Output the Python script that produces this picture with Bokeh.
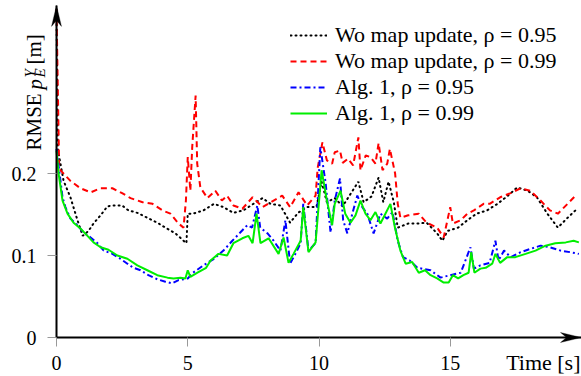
import numpy as np
from bokeh.plotting import figure
from bokeh.models import Label, Legend, LegendItem, FixedTicker, PolyAnnotation
from bokeh.embed import file_html
from bokeh.resources import INLINE

# ---------------- data ----------------
t_wo95 = [0, 0.05, 0.27, 0.53, 0.8, 1.0, 1.22, 1.41, 1.68, 1.94, 2.17, 2.5, 2.74, 3.08, 3.46, 3.84,
          4.15, 4.53, 4.84, 4.95, 5.0, 5.2, 5.6, 6.0, 6.36, 6.74, 7.12, 7.5, 7.85, 8.15, 8.53, 8.9,
          9.2, 9.55, 9.9, 10.1, 10.3, 10.6, 10.9, 11.2, 11.5, 11.7, 12.0, 12.27, 12.45, 12.65, 12.85,
          13.0, 13.4, 13.75, 14.1, 14.5, 14.7, 14.9, 15.3, 15.65, 16.0, 16.4, 16.8, 17.2, 17.55,
          17.95, 18.3, 18.7, 19.1, 19.47, 19.77]
y_wo95 = [0.40, 0.23, 0.191, 0.171, 0.143, 0.124, 0.130, 0.139, 0.149, 0.160, 0.161, 0.161, 0.155,
          0.152, 0.146, 0.140, 0.134, 0.127, 0.118, 0.115, 0.151, 0.151, 0.155, 0.163, 0.159, 0.152,
          0.155, 0.163, 0.170, 0.163, 0.161, 0.140, 0.152, 0.159, 0.159, 0.190, 0.165, 0.170, 0.160,
          0.175, 0.190, 0.165, 0.172, 0.195, 0.165, 0.190, 0.165, 0.134, 0.139, 0.139, 0.140, 0.127,
          0.118, 0.130, 0.134, 0.143, 0.151, 0.155, 0.163, 0.173, 0.183, 0.179, 0.171, 0.151, 0.134,
          0.146, 0.155]

t_wo99 = [0, 0.1, 0.15, 0.53, 0.91, 1.3, 1.68, 2.13, 2.5, 2.82, 3.28, 3.66, 4.04, 4.34, 4.65, 4.84,
          4.93, 5.0, 5.1, 5.17, 5.3, 5.36, 5.48, 5.75, 6.05, 6.3, 6.5, 6.74, 7.08, 7.47, 7.85, 8.27,
          8.6, 8.9, 9.22, 9.55, 9.87, 9.95, 10.13, 10.3, 10.5, 10.6, 10.8, 10.9, 11.1, 11.3, 11.5,
          11.58, 11.78, 11.96, 12.15, 12.27, 12.42, 12.6, 12.7, 12.9, 13.0, 13.1, 13.4, 13.8, 14.1,
          14.5, 14.75, 15.0, 15.1, 15.4, 15.65, 15.9, 16.27, 16.5, 16.9, 17.3, 17.68, 18.05, 18.44,
          18.8, 19.1, 19.47, 19.77]
y_wo99 = [0.40, 0.21, 0.204, 0.191, 0.182, 0.177, 0.182, 0.182, 0.176, 0.170, 0.165, 0.163, 0.155,
          0.151, 0.139, 0.134, 0.167, 0.220, 0.179, 0.232, 0.295, 0.212, 0.183, 0.170, 0.179, 0.167,
          0.173, 0.161, 0.157, 0.171, 0.159, 0.167, 0.173, 0.159, 0.177, 0.161, 0.173, 0.207, 0.238,
          0.216, 0.212, 0.226, 0.228, 0.213, 0.218, 0.210, 0.244, 0.204, 0.222, 0.220, 0.212, 0.237,
          0.204, 0.212, 0.230, 0.200, 0.163, 0.146, 0.149, 0.151, 0.140, 0.134, 0.122, 0.159, 0.139,
          0.143, 0.151, 0.155, 0.163, 0.163, 0.171, 0.176, 0.182, 0.179, 0.167, 0.155, 0.151, 0.163,
          0.173]

t_alg95 = [0, 0.23, 0.34, 0.53, 0.8, 1.03, 1.3, 1.56, 1.8, 2.13, 2.44, 2.7, 2.93, 3.2, 3.5, 3.84,
           4.15, 4.4, 4.65, 5.0, 5.2, 5.6, 6.0, 6.36, 6.7, 7.0, 7.27, 7.45, 7.65, 7.76, 8.04, 8.27,
           8.53, 8.72, 8.9, 9.1, 9.3, 9.4, 9.6, 9.87, 10.05, 10.25, 10.44, 10.6, 10.8, 10.92, 11.08,
           11.27, 11.46, 11.65, 11.84, 12.08, 12.34, 12.6, 12.8, 13.0, 13.2, 13.45, 13.75, 14.25,
           14.63, 15.0, 15.4, 15.77, 15.9, 16.15, 16.5, 16.72, 16.84, 17.05, 17.3, 17.68, 18.05,
           18.44, 18.8, 19.2, 19.58, 19.9]
y_alg95 = [0.23, 0.171, 0.159, 0.145, 0.137, 0.128, 0.122, 0.115, 0.106, 0.102, 0.096, 0.090, 0.085,
           0.082, 0.076, 0.071, 0.068, 0.066, 0.070, 0.072, 0.079, 0.088, 0.096, 0.106, 0.118, 0.128,
           0.137, 0.134, 0.161, 0.134, 0.127, 0.118, 0.106, 0.143, 0.090, 0.102, 0.115, 0.163, 0.106,
           0.115, 0.232, 0.189, 0.128, 0.167, 0.194, 0.143, 0.127, 0.151, 0.173, 0.159, 0.151, 0.127,
           0.151, 0.145, 0.153, 0.118, 0.098, 0.094, 0.085, 0.082, 0.073, 0.076, 0.079, 0.110, 0.084,
           0.088, 0.091, 0.118, 0.094, 0.106, 0.098, 0.104, 0.108, 0.112, 0.110, 0.106, 0.104, 0.102]

t_alg99 = [0, 0.08, 0.23, 0.42, 0.65, 0.91, 1.18, 1.41, 1.68, 1.98, 2.32, 2.7, 3.08, 3.46, 3.84,
           4.23, 4.46, 4.72, 4.91, 5.0, 5.1, 5.37, 5.7, 5.87, 6.17, 6.5, 6.74, 7.08, 7.31, 7.47, 7.62,
           7.77, 8.08, 8.46, 8.65, 8.84, 9.03, 9.3, 9.4, 9.6, 9.87, 10.1, 10.3, 10.5, 10.6, 10.82,
           11.0, 11.2, 11.39, 11.58, 11.77, 11.96, 12.15, 12.34, 12.53, 12.72, 12.9, 13.1, 13.3,
           13.55, 13.8, 14.04, 14.25, 14.5, 14.75, 14.94, 15.1, 15.3, 15.5, 15.7, 15.8, 15.92, 16.15,
           16.35, 16.6, 16.72, 16.9, 17.17, 17.48, 17.87, 18.25, 18.63, 19.0, 19.4, 19.7, 19.9]
y_alg99 = [0.228, 0.200, 0.167, 0.151, 0.140, 0.133, 0.124, 0.116, 0.110, 0.107, 0.100, 0.096, 0.088,
           0.082, 0.076, 0.073, 0.072, 0.073, 0.072, 0.082, 0.074, 0.079, 0.085, 0.094, 0.102, 0.100,
           0.115, 0.121, 0.124, 0.115, 0.151, 0.115, 0.121, 0.102, 0.122, 0.091, 0.102, 0.118, 0.159,
           0.104, 0.116, 0.204, 0.167, 0.137, 0.163, 0.179, 0.151, 0.140, 0.149, 0.167, 0.151, 0.143,
           0.153, 0.139, 0.151, 0.163, 0.133, 0.106, 0.090, 0.092, 0.079, 0.082, 0.076, 0.072, 0.067,
           0.067, 0.076, 0.072, 0.076, 0.079, 0.104, 0.079, 0.084, 0.085, 0.090, 0.102, 0.091, 0.098,
           0.098, 0.102, 0.106, 0.112, 0.115, 0.116, 0.118, 0.116]

legend_labels = ["Wo map update, ρ = 0.95", "Wo map update, ρ = 0.99",
                 "Alg. 1, ρ = 0.95", "Alg. 1, ρ = 0.99"]
x_ticks = [0, 5, 10, 15]
y_ticks = [0, 0.1, 0.2]
y_tick_labels = ["0", "0.1", "0.2"]

AX_X_END, AX_Y_END = 20.0, 0.405   # axis extents (arrow tips)

# ---------------- figure ----------------
W, H = 581, 376
X0_PX, Y0_PX = 56, 337          # pixel position of the data origin
SX, SY = 26.25, 820.0           # pixels per data unit
FONT = "Liberation Serif"

x_rng = (-X0_PX / SX, (W - X0_PX) / SX)
y_rng = ((Y0_PX - H) / SY, Y0_PX / SY)

p = figure(width=W, height=H, x_range=x_rng, y_range=y_rng,
           output_backend="svg", toolbar_location=None,
           min_border_left=0, min_border_right=0, min_border_top=0, min_border_bottom=0)
p.outline_line_color = None
p.grid.visible = False
p.background_fill_color = "white"

for ax in (p.xaxis[0], p.yaxis[0]):
    ax.fixed_location = 0
    ax.axis_line_color = "black"
    ax.axis_line_width = 2
    ax.major_tick_line_color = "#999999"
    ax.major_tick_line_width = 1
    ax.major_tick_in = 0
    ax.major_tick_out = 9
    ax.minor_tick_line_color = None
    ax.major_label_text_font = FONT
    ax.major_label_text_font_size = "20px"
    ax.major_label_text_color = "black"

p.xaxis.bounds = (0, AX_X_END)
p.yaxis.bounds = (0, AX_Y_END)
p.xaxis.ticker = FixedTicker(ticks=x_ticks)
p.xaxis.major_label_standoff = 9
p.yaxis.ticker = FixedTicker(ticks=y_ticks)
p.yaxis.major_label_overrides = {t: s for t, s in zip(y_ticks, y_tick_labels)}
p.yaxis.major_label_standoff = 11

r1 = p.line(t_wo95, y_wo95, line_color="black", line_width=2, line_dash="1 4", line_cap="round")
r2 = p.line(t_wo99, y_wo99, line_color="red", line_width=2, line_dash="6 4")
r3 = p.line(t_alg95, y_alg95, line_color="blue", line_width=2, line_dash="6 3 2 3")
r4 = p.line(t_alg99, y_alg99, line_color="#00ee00", line_width=2)

legend = Legend(items=[LegendItem(label=l, renderers=[r]) for l, r in zip(legend_labels, [r1, r2, r3, r4])],
                location=(290, 376 - 126), border_line_color=None, background_fill_alpha=0,
                label_text_font=FONT, label_text_font_size="22px", label_text_color="black",
                glyph_width=37, glyph_height=20, label_height=20, spacing=-5, padding=0, margin=0,
                label_standoff=8)
p.add_layout(legend)

# ---------------- axis arrows ----------------
L, HW, NOTCH = 21, 5, 15
p.add_layout(PolyAnnotation(
    xs=[0, -HW / SX, 0, HW / SX],
    ys=[AX_Y_END, AX_Y_END - L / SY, AX_Y_END - NOTCH / SY, AX_Y_END - L / SY],
    fill_color="black", fill_alpha=1, line_color="black", line_width=1))
p.add_layout(PolyAnnotation(
    xs=[AX_X_END, AX_X_END - L / SX, AX_X_END - NOTCH / SX, AX_X_END - L / SX],
    ys=[0, HW / SY, 0, -HW / SY],
    fill_color="black", fill_alpha=1, line_color="black", line_width=1))

# ---------------- axis labels ----------------
def px2x(px):
    return (px - X0_PX) / SX

def py2y(py):
    return (Y0_PX - py) / SY

def lab(text, px, py, size="21px", style="normal", angle=np.pi / 2, align="left"):
    p.add_layout(Label(x=px2x(px), y=py2y(py), text=text, angle=angle, text_align=align,
                       text_baseline="middle", text_font=FONT, text_font_size=size,
                       text_font_style=style, text_color="black"))

lab("RMSE", 33, 150)
lab("p", 34, 89, style="italic")
lab("E", 39, 77, size="15px", style="italic")
lab("Y", 29, 77, size="15px", style="italic")
lab("[m]", 33, 64)
lab("Time [s]", 580, 362, size="22px", angle=0, align="right")

open("out.html", "w").write(file_html(p, INLINE))
